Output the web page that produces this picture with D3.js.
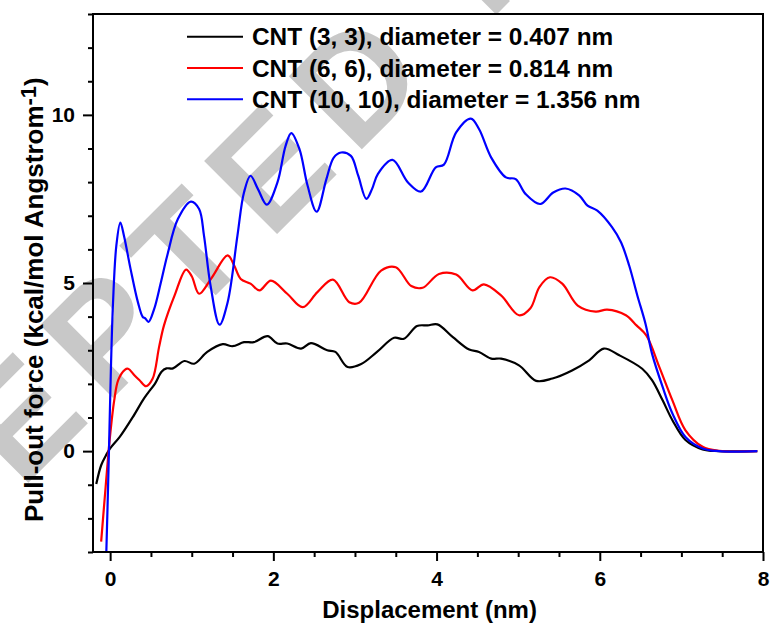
<!DOCTYPE html>
<html><head><meta charset="utf-8">
<script src="https://cdn.jsdelivr.net/npm/d3@7"></script>
<style>
body{margin:0;background:#fff}
svg{display:block}
text{font-family:"Liberation Sans",Arial,sans-serif;font-weight:bold}
</style>
</head><body>
<svg id="c" width="770" height="627"></svg>
<script>
// ---- data ----
const xMajorTicks = [0, 2, 4, 6, 8];
const yMajorTicks = [0, 5, 10];
const seriesNames = ["CNT (3, 3), diameter = 0.407 nm", "CNT (6, 6), diameter = 0.814 nm", "CNT (10, 10), diameter = 1.356 nm"];
const seriesColors = ["#000000", "#ff0000", "#0000ff"];
const xTitle = "Displacement (nm)";
const yTitle = "Pull-out force (kcal/mol Angstrom";
const watermark = "ACCEPTED MANUSCRIPT";

const cnt33 = [[-0.17,-0.98],[-0.11,-0.42],[-0.05,-0.12],[0,0.08],[0.12,0.43],[0.28,1.02],[0.40,1.51],[0.46,1.72],[0.55,2.01],[0.63,2.36],[0.69,2.46],[0.77,2.46],[0.91,2.68],[1.03,2.60],[1.19,2.95],[1.38,3.18],[1.50,3.12],[1.64,3.24],[1.76,3.24],[1.93,3.42],[2.05,3.20],[2.17,3.20],[2.34,3.05],[2.46,3.21],[2.66,3.00],[2.76,2.95],[2.91,2.50],[3.07,2.58],[3.27,2.95],[3.48,3.37],[3.60,3.34],[3.76,3.72],[3.89,3.74],[4.01,3.77],[4.20,3.39],[4.40,3.02],[4.52,2.95],[4.67,2.75],[4.79,2.75],[5.01,2.55],[5.22,2.09],[5.42,2.16],[5.66,2.40],[5.87,2.70],[6.05,3.05],[6.24,2.85],[6.52,2.45],[6.64,2.11],[6.77,1.51],[6.89,0.92],[7.05,0.33],[7.26,0.05],[7.46,0.0],[7.93,0.0]];
const cnt66 = [[-0.11,-2.69],[-0.055,-1.06],[-0.006,0.33],[0.05,1.51],[0.10,2.12],[0.18,2.42],[0.22,2.45],[0.30,2.25],[0.36,2.11],[0.44,1.93],[0.52,2.15],[0.60,3.10],[0.66,3.74],[0.79,4.63],[0.93,5.40],[1.00,5.20],[1.09,4.68],[1.24,5.14],[1.44,5.82],[1.52,5.52],[1.60,5.12],[1.72,4.98],[1.83,4.78],[1.97,5.07],[2.17,4.68],[2.36,4.28],[2.54,4.73],[2.73,5.10],[2.93,4.43],[3.05,4.41],[3.32,5.37],[3.50,5.47],[3.69,4.91],[3.83,4.86],[4.03,5.27],[4.24,5.25],[4.44,4.78],[4.58,4.96],[4.79,4.63],[5.01,4.04],[5.15,4.25],[5.26,4.88],[5.39,5.17],[5.54,4.98],[5.73,4.33],[5.95,4.15],[6.09,4.21],[6.32,4.04],[6.45,3.74],[6.57,3.44],[6.73,2.50],[6.89,1.51],[7.05,0.62],[7.26,0.13],[7.46,0.01],[7.93,0.0]];
const cnt1010 = [[-0.05,-3.3],[-0.02,-0.56],[0.01,2.5],[0.035,4.4],[0.076,6.11],[0.125,6.80],[0.17,6.4],[0.25,5.42],[0.34,4.43],[0.40,3.99],[0.43,3.95],[0.47,3.84],[0.54,4.23],[0.62,5.0],[0.70,5.82],[0.83,6.90],[0.99,7.42],[1.09,7.20],[1.15,6.41],[1.23,4.93],[1.34,3.76],[1.44,4.43],[1.56,6.41],[1.64,7.69],[1.72,8.19],[1.81,7.80],[1.92,7.33],[2.05,7.99],[2.15,9.08],[2.22,9.46],[2.32,8.98],[2.42,7.89],[2.53,7.12],[2.65,8.09],[2.74,8.73],[2.83,8.88],[2.95,8.78],[3.04,8.19],[3.14,7.50],[3.21,7.80],[3.28,8.24],[3.46,8.66],[3.65,7.99],[3.81,7.72],[3.99,8.44],[4.09,8.52],[4.24,9.48],[4.42,9.89],[4.52,9.58],[4.67,8.73],[4.85,8.14],[4.97,8.09],[5.09,7.65],[5.27,7.35],[5.43,7.69],[5.58,7.81],[5.75,7.60],[5.85,7.30],[5.97,7.15],[6.15,6.66],[6.26,6.21],[6.36,5.52],[6.46,4.63],[6.56,3.79],[6.64,2.90],[6.77,1.91],[6.89,1.12],[7.05,0.42],[7.26,0.08],[7.46,0.0],[7.93,0.0]];
const seriesData = [cnt33, cnt66, cnt1010];

// ---- chart ----
const svg = d3.select("#c");
const L = 93, R = 763, T = 14, B = 552;
const x = d3.scaleLinear().domain([-0.21, 8]).range([L, R]);
const y = d3.scaleLinear().domain([-3, 13]).range([B, T]);

// watermark
svg.append("text").text(watermark)
  .attr("transform", "translate(-251,762) rotate(-45)")
  .attr("font-size", 150).attr("letter-spacing", 20).attr("fill", "#c8c8c8");

svg.append("defs").append("clipPath").attr("id", "clip")
  .append("rect").attr("x", L).attr("y", T).attr("width", R - L).attr("height", B - T);

const line = d3.line().x(d => x(d[0])).y(d => y(d[1])).curve(d3.curveCatmullRom.alpha(0.5));
const plot = svg.append("g").attr("clip-path", "url(#clip)");
seriesData.forEach((s, i) => {
  plot.append("path").datum(s).attr("d", line)
    .attr("fill", "none").attr("stroke", seriesColors[i]).attr("stroke-width", 2.2)
    .attr("stroke-linejoin", "round");
});

// axes
const xMinor = d3.range(0, 8.01, 0.5).filter(v => !xMajorTicks.includes(v));
const yMinor = d3.range(-3, 13.01, 1).filter(v => !yMajorTicks.includes(v));
function styleAxis(g) {
  g.select(".domain").remove();
  g.selectAll("line").attr("stroke", "#000").attr("stroke-width", 2);
  g.selectAll("text").attr("fill", "#000").attr("font-size", 21).attr("font-family", "Liberation Sans, Arial, sans-serif").attr("font-weight", "bold");
}
svg.append("g").attr("transform", `translate(0,${B})`)
  .call(d3.axisBottom(x).tickValues(xMinor).tickSize(5).tickFormat(""))
  .call(styleAxis);
svg.append("g").attr("transform", `translate(0,${B})`)
  .call(d3.axisBottom(x).tickValues(xMajorTicks).tickSize(9).tickPadding(10).tickFormat(d3.format("d")))
  .call(styleAxis);
svg.append("g").attr("transform", `translate(${L},0)`)
  .call(d3.axisLeft(y).tickValues(yMinor).tickSize(5).tickFormat(""))
  .call(styleAxis);
svg.append("g").attr("transform", `translate(${L},0)`)
  .call(d3.axisLeft(y).tickValues(yMajorTicks).tickSize(10).tickPadding(8).tickFormat(d3.format("d")))
  .call(styleAxis);

// frame
svg.append("rect").attr("x", L).attr("y", T).attr("width", R - L).attr("height", B - T)
  .attr("fill", "none").attr("stroke", "#000").attr("stroke-width", 2);

// legend
const leg = svg.append("g");
seriesNames.forEach((n, i) => {
  const ly = 36.7 + i * 31.3;
  leg.append("line").attr("x1", 187).attr("x2", 243).attr("y1", ly).attr("y2", ly)
    .attr("stroke", seriesColors[i]).attr("stroke-width", 2);
  leg.append("text").attr("x", 252).attr("y", ly).attr("dy", "0.36em")
    .attr("font-size", 24.4).attr("fill", "#000").text(n);
});

// axis titles
svg.append("text").attr("x", (x(0) + x(8)) / 2 - 7).attr("y", 618).attr("text-anchor", "middle")
  .attr("font-size", 24).attr("fill", "#000").text(xTitle);

const yt = svg.append("text").attr("transform", "translate(43,522) rotate(-90)")
  .attr("font-size", 26).attr("fill", "#000");
yt.append("tspan").text(yTitle);
yt.append("tspan").attr("font-size", 22).attr("dy", -7).text("-1");
yt.append("tspan").attr("dy", 7).text(")");
</script>
</body></html>
